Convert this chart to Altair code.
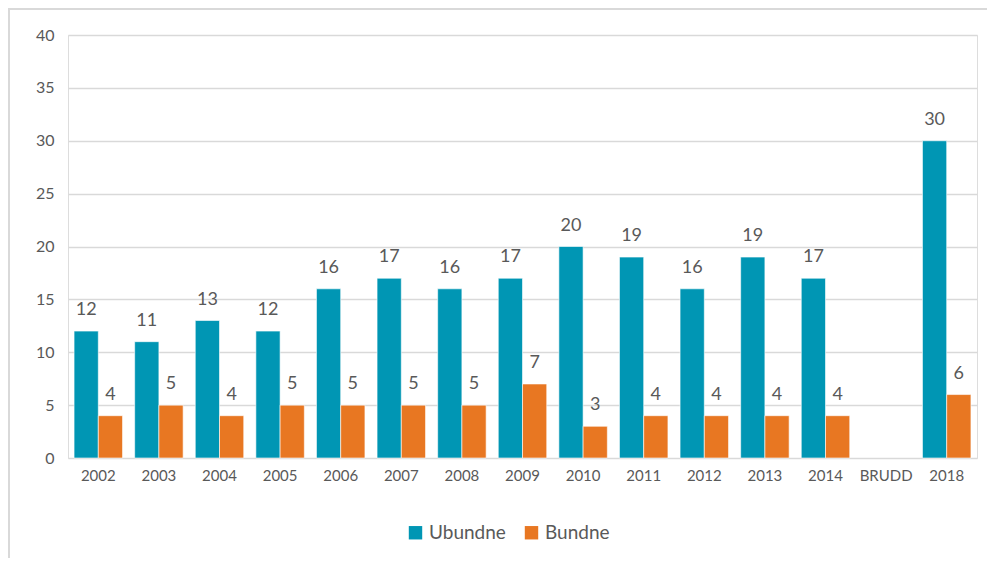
import altair as alt
import pandas as pd

years = ["2002", "2003", "2004", "2005", "2006", "2007", "2008", "2009",
         "2010", "2011", "2012", "2013", "2014", "BRUDD", "2018"]
ubundne = [12, 11, 13, 12, 16, 17, 16, 17, 20, 19, 16, 19, 17, None, 30]
bundne = [4, 5, 4, 5, 5, 5, 5, 7, 3, 4, 4, 4, 4, None, 6]
series = ["Ubundne", "Bundne"]
colors = ["#0096b4", "#e87722"]

rows = []
for y, u, b in zip(years, ubundne, bundne):
    rows.append({"år": y, "serie": "Ubundne", "verdi": u})
    rows.append({"år": y, "serie": "Bundne", "verdi": b})
df = pd.DataFrame(rows)

FONT = "Lato"
TXT = "#595959"

x = alt.X("år:N", sort=years, title=None,
          scale=alt.Scale(domain=years, paddingInner=0.2, paddingOuter=0.1),
          axis=alt.Axis(labelAngle=0, labelFontSize=15, labelColor=TXT, labelFont=FONT,
                        ticks=False, domain=False, labelPadding=10))
xo = alt.XOffset("serie:N", sort=series, scale=alt.Scale(domain=series, paddingInner=0, paddingOuter=0))

base = alt.Chart(df).transform_filter("datum.verdi != null")

bars = base.mark_bar(stroke="white", strokeWidth=0.6).encode(
    x=x, xOffset=xo,
    y=alt.Y("verdi:Q", scale=alt.Scale(domain=[0, 40]), title=None,
            axis=alt.Axis(values=[0, 5, 10, 15, 20, 25, 30, 35, 40], labelFontSize=16,
                          labelColor=TXT, labelFont=FONT, ticks=False, domain=False,
                          labelPadding=14, gridColor="#d9d9d9", gridWidth=1.5)),
    color=alt.Color("serie:N", sort=series, scale=alt.Scale(domain=series, range=colors),
                    legend=alt.Legend(title=None, orient="none", direction="horizontal",
                                      legendX=338, legendY=488, symbolType="square",
                                      symbolSize=180, symbolStrokeWidth=0, labelFontSize=19,
                                      labelColor=TXT, labelFont=FONT, columnPadding=16,
                                      labelOffset=4, symbolOpacity=1)),
)

labels = base.mark_text(baseline="bottom", dy=-12, fontSize=18, color=TXT, font=FONT).encode(
    x=x, xOffset=xo, y="verdi:Q", text="verdi:Q"
)

frame = alt.Chart(pd.DataFrame({"a": [0]})).mark_rect(
    fill=None, stroke="#d9d9d9", strokeWidth=2
).encode(x=alt.value(-59), x2=alt.value(1000), y=alt.value(-26), y2=alt.value(600))

chart = alt.layer(frame, bars, labels).properties(
    width=909, height=423,
    autosize=alt.AutoSizeParams(type="none"),
    padding={"left": 60, "top": 27, "right": 10, "bottom": 100},
).configure_view(stroke=None).configure(font=FONT)

chart.save("out.html", embed_options={"renderer": "svg", "actions": False})
